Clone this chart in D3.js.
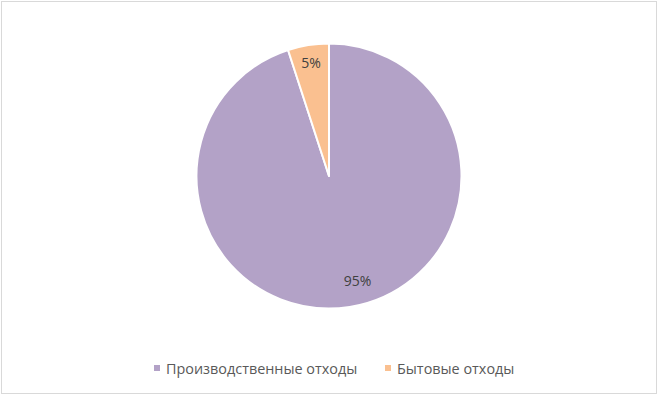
<!DOCTYPE html>
<html><head><meta charset="utf-8">
<script src="https://cdn.jsdelivr.net/npm/d3@7"></script>
<style>html,body{margin:0;padding:0;background:#fff;}svg{display:block;}</style>
</head><body>
<svg id="c" width="658" height="395"></svg>
<script>
const categories = ["Производственные отходы", "Бытовые отходы"];
const values = [95, 5];
const colors = ["#b3a2c7", "#fac090"];

const svg = d3.select("#c");
const W = 658, H = 395;
svg.append("rect").attr("x", 1.5).attr("y", 1.5).attr("width", W - 3).attr("height", H - 3)
  .attr("fill", "#fff").attr("stroke", "#d9d9d9").attr("stroke-width", 1);

const cx = 329, cy = 176, R = 132.5;
const g = svg.append("g").attr("transform", `translate(${cx},${cy})`);
const data = categories.map((c, i) => ({ c, v: values[i], col: colors[i] }));
const pie = d3.pie().value(d => d.v).sort(null);
const arcs = pie(data);
const arc = d3.arc().innerRadius(0).outerRadius(R);
g.selectAll("path").data(arcs).join("path")
  .attr("d", arc).attr("fill", d => d.data.col)
  .attr("stroke", "#fff").attr("stroke-width", 2).attr("stroke-linejoin", "round");

const labelR = [0.80, 0.865];
const labelDx = [12, 0];
const total = d3.sum(values);
g.selectAll("text.lbl").data(arcs).join("text").attr("class", "lbl")
  .attr("x", (d, i) => Math.sin((d.startAngle + d.endAngle) / 2) * R * labelR[i] + labelDx[i])
  .attr("y", (d, i) => -Math.cos((d.startAngle + d.endAngle) / 2) * R * labelR[i])
  .attr("text-anchor", "middle").attr("dominant-baseline", "central")
  .attr("font-family", "Open Sans, Noto Sans, sans-serif").attr("font-size", 14)
  .attr("fill", "#404040")
  .text(d => Math.round(d.data.v / total * 100) + "%");

// legend
const lg = svg.append("g").attr("transform", "translate(0,368)");
const items = [{ x: 157 }, { x: 388 }];
data.forEach((d, i) => {
  lg.append("rect").attr("x", items[i].x - 3).attr("y", -3).attr("width", 6).attr("height", 6).attr("fill", d.col);
  lg.append("text").attr("x", items[i].x + 9).attr("y", 0).attr("dominant-baseline", "central")
    .attr("font-family", "Open Sans, Noto Sans, sans-serif").attr("font-size", 14.4).attr("fill", "#595959")
    .text(d.c);
});
</script>
</body></html>
